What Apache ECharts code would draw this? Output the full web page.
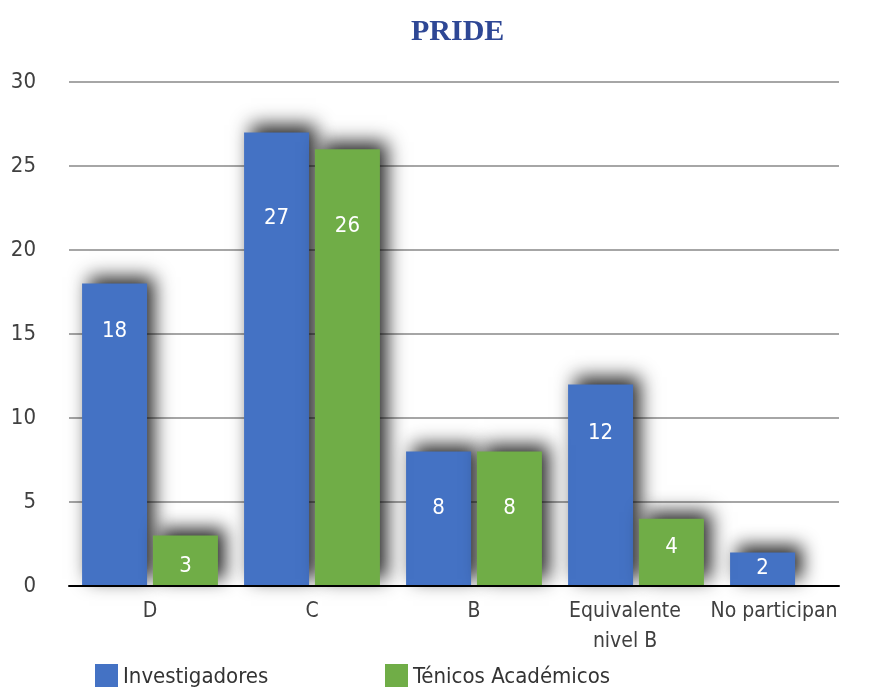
<!DOCTYPE html>
<html>
<head>
<meta charset="utf-8">
<script src="https://cdn.jsdelivr.net/npm/echarts@6/dist/echarts.min.js"></script>
<style>html,body{margin:0;padding:0;background:#fff}#c{width:869px;height:687px}</style>
</head>
<body>
<div id="c"></div>
<script>
const categories = ['D', 'C', 'B', 'Equivalente\nnivel B', 'No participan'];
const investigadores = [18, 27, 8, 12, 2];
const tecnicos = [3, 26, 8, 4, null];
const yTicks = [0, 5, 10, 15, 20, 25, 30];

// label placement (style only): distance below bar top
const invLabelDist = [37, 75, 46, 38, 5];
const tecLabelDist = [20, 66, 46, 17, 0];
// horizontal label shift for category names (style only)
const catShift = [0, 0, 0, 22, 48];

const FONT = '"DejaVu Sans Condensed", sans-serif';
const BLUE = '#4472C4', GREEN = '#70AD47';

const shadow = { shadowColor: 'rgba(0,0,0,0.85)', shadowBlur: 18, shadowOffsetX: 7, shadowOffsetY: -7 };

function mk(vals, dists) {
  return vals.map((v, i) => v == null ? null : ({ value: v, label: { distance: dists[i] } }));
}

const chart = echarts.init(document.getElementById('c'));
chart.setOption({
  animation: false,
  title: {
    text: 'PRIDE', left: 406, top: 12,
    textStyle: { fontFamily: '"Liberation Serif", "DejaVu Serif", serif', fontWeight: 'bold', fontSize: 30, color: '#2E4795' }
  },
  legend: [
    { data: ['Investigadores'], left: 90, top: 659, itemWidth: 23, itemHeight: 26, icon: 'rect', itemGap: 5,
      itemStyle: { shadowBlur: 0, shadowColor: 'transparent', shadowOffsetX: 0, shadowOffsetY: 0 },
      textStyle: { fontFamily: FONT, fontSize: 22, color: '#333' } },
    { data: ['Ténicos Académicos'], left: 380, top: 659, itemWidth: 23, itemHeight: 26, icon: 'rect',
      itemStyle: { shadowBlur: 0, shadowColor: 'transparent', shadowOffsetX: 0, shadowOffsetY: 0 },
      textStyle: { fontFamily: FONT, fontSize: 22, color: '#333' } }
  ],
  grid: [
    { left: 69, width: 770, top: 82, bottom: 101, outerBoundsMode: 'none', containLabel: false },
    { left: 69, width: 810, top: 82, bottom: 101, outerBoundsMode: 'none', containLabel: false }
  ],
  xAxis: [
    { type: 'category', gridIndex: 0, data: categories.map(() => ''), z: 10,
      axisLine: { lineStyle: { color: '#000', width: 2 } }, axisTick: { show: false }, axisLabel: { show: false } },
    { type: 'category', gridIndex: 1, data: categories,
      axisLine: { show: false }, axisTick: { show: false },
      axisLabel: {
        interval: 0, margin: 11, fontFamily: FONT, fontSize: 21, color: '#404040', lineHeight: 30,
        formatter: function (v, i) {
          return v.split('\n').map(s => '{s' + i + '|' + s + '}').join('\n');
        },
        rich: Object.fromEntries(catShift.map((p, i) => ['s' + i, { fontFamily: FONT, fontSize: 21, color: '#404040', lineHeight: 30, padding: [0, p, 0, 0] }]))
      } }
  ],
  yAxis: [
    { type: 'value', gridIndex: 0, min: yTicks[0], max: yTicks[yTicks.length - 1], interval: 5,
      axisLine: { show: false }, axisTick: { show: false },
      splitLine: { lineStyle: { color: '#A6A6A6', width: 2 } },
      axisLabel: { margin: 33, fontFamily: FONT, fontSize: 22, color: '#404040' } },
    { type: 'value', gridIndex: 1, min: yTicks[0], max: yTicks[yTicks.length - 1], interval: 5, show: false,
      splitLine: { show: false } }
  ],
  series: [
    { name: 'Investigadores', type: 'bar', xAxisIndex: 1, yAxisIndex: 1, barWidth: 65, barGap: '9%',
      data: mk(investigadores, invLabelDist),
      itemStyle: Object.assign({ color: BLUE }, shadow),
      label: { show: true, position: 'insideTop', color: '#fff', fontFamily: FONT, fontSize: 22 } },
    { name: 'Ténicos Académicos', type: 'bar', xAxisIndex: 1, yAxisIndex: 1, barWidth: 65, barGap: '9%',
      data: mk(tecnicos, tecLabelDist),
      itemStyle: Object.assign({ color: GREEN }, shadow),
      label: { show: true, position: 'insideTop', color: '#fff', fontFamily: FONT, fontSize: 22 } }
  ]
});
</script>
</body>
</html>
